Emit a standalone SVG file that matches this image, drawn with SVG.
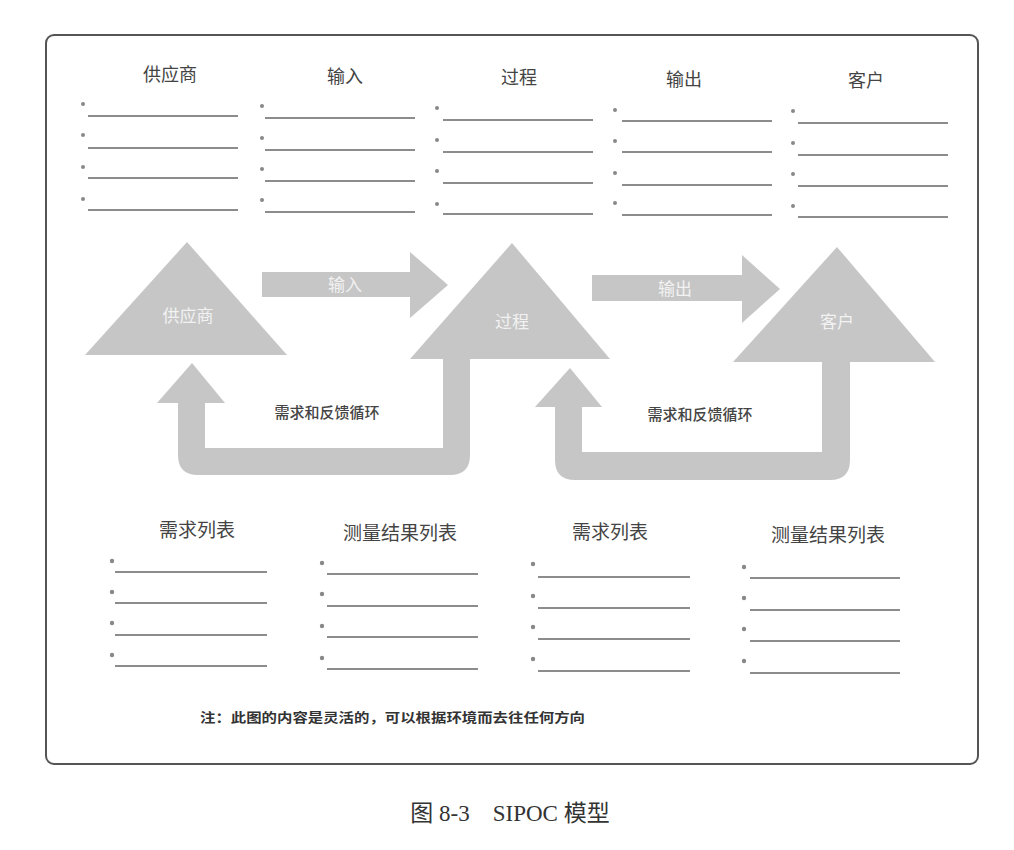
<svg xmlns="http://www.w3.org/2000/svg" width="1014" height="850" viewBox="0 0 1014 850">
<style>
.frame{fill:#fff;stroke:#555;stroke-width:2}
.hdr{font-family:"Liberation Serif","Noto Sans CJK SC",serif;font-size:18px;fill:#444;text-anchor:middle}
.hdr2{font-family:"Liberation Serif","Noto Sans CJK SC",serif;font-size:19px;fill:#444;text-anchor:middle}
.ln{stroke:#666;stroke-width:1.3}
.dot{fill:#888}
.shape{fill:#c6c6c6}
.wl{font-family:"Liberation Sans","Noto Sans CJK SC",sans-serif;font-size:17px;fill:#f2f2f2;text-anchor:middle}
.fb{font-family:"Liberation Sans","Noto Sans CJK SC",sans-serif;font-size:15px;font-weight:500;fill:#444;text-anchor:middle}
.note{font-family:"Liberation Sans","Noto Sans CJK SC",sans-serif;font-size:13px;font-weight:bold;fill:#333}
.cap{font-family:"Liberation Serif","Noto Sans CJK SC",serif;font-size:23px;fill:#333;text-anchor:middle}
</style>
<rect width="1014" height="850" fill="#fff"/>
<rect class="frame" x="46" y="35" width="932" height="729" rx="8"/>

<g id="top-lists">
  <g id="col-supplier">
    <text class="hdr" x="170" y="81">供应商</text>
    <circle class="dot" cx="83" cy="104" r="2"/><line class="ln" x1="88" y1="116" x2="238" y2="116"/>
    <circle class="dot" cx="83" cy="135" r="2"/><line class="ln" x1="88" y1="148" x2="238" y2="148"/>
    <circle class="dot" cx="83" cy="167" r="2"/><line class="ln" x1="88" y1="178" x2="238" y2="178"/>
    <circle class="dot" cx="83" cy="199" r="2"/><line class="ln" x1="88" y1="210" x2="238" y2="210"/>
  </g>
  <g id="col-input">
    <text class="hdr" x="345" y="83">输入</text>
    <circle class="dot" cx="262" cy="106" r="2"/><line class="ln" x1="265" y1="118" x2="415" y2="118"/>
    <circle class="dot" cx="262" cy="138" r="2"/><line class="ln" x1="265" y1="150" x2="415" y2="150"/>
    <circle class="dot" cx="262" cy="169" r="2"/><line class="ln" x1="265" y1="181" x2="415" y2="181"/>
    <circle class="dot" cx="262" cy="200" r="2"/><line class="ln" x1="265" y1="212" x2="415" y2="212"/>
  </g>
  <g id="col-process">
    <text class="hdr" x="519" y="84">过程</text>
    <circle class="dot" cx="437" cy="108" r="2"/><line class="ln" x1="443" y1="120" x2="593" y2="120"/>
    <circle class="dot" cx="437" cy="140" r="2"/><line class="ln" x1="443" y1="152" x2="593" y2="152"/>
    <circle class="dot" cx="437" cy="171" r="2"/><line class="ln" x1="443" y1="183" x2="593" y2="183"/>
    <circle class="dot" cx="437" cy="204" r="2"/><line class="ln" x1="443" y1="214" x2="593" y2="214"/>
  </g>
  <g id="col-output">
    <text class="hdr" x="684" y="86">输出</text>
    <circle class="dot" cx="615" cy="110" r="2"/><line class="ln" x1="622" y1="121" x2="772" y2="121"/>
    <circle class="dot" cx="615" cy="141" r="2"/><line class="ln" x1="622" y1="152" x2="772" y2="152"/>
    <circle class="dot" cx="615" cy="173" r="2"/><line class="ln" x1="622" y1="185" x2="772" y2="185"/>
    <circle class="dot" cx="615" cy="203" r="2"/><line class="ln" x1="622" y1="215" x2="772" y2="215"/>
  </g>
  <g id="col-customer">
    <text class="hdr" x="866" y="87">客户</text>
    <circle class="dot" cx="793" cy="111" r="2"/><line class="ln" x1="798" y1="123" x2="948" y2="123"/>
    <circle class="dot" cx="793" cy="143" r="2"/><line class="ln" x1="798" y1="155" x2="948" y2="155"/>
    <circle class="dot" cx="793" cy="174" r="2"/><line class="ln" x1="798" y1="186" x2="948" y2="186"/>
    <circle class="dot" cx="793" cy="206" r="2"/><line class="ln" x1="798" y1="217" x2="948" y2="217"/>
  </g>
</g>

<g id="connectors">
  <g id="arrow-input">
    <polygon class="shape" points="262,272 410,272 410,252 448,285 410,318 410,297 262,297"/>
    <text class="wl" x="345" y="291">输入</text>
  </g>
  <g id="arrow-output">
    <polygon class="shape" points="592,275 742,275 742,255 780,289 742,323 742,301 592,301"/>
    <text class="wl" x="675" y="295">输出</text>
  </g>
  <g id="feedback-1">
    <path class="shape" d="M192,363 L225,403 L205,403 L205,448 L443,448 L443,352 L470,352 L470,455 Q470,475 450,475 L198,475 Q178,475 178,455 L178,403 L157,403 Z"/>
    <text class="fb" x="327" y="418">需求和反馈循环</text>
  </g>
  <g id="feedback-2">
    <path class="shape" d="M570,368 L602,407 L582,407 L582,452 L822,452 L822,356 L850,356 L850,460 Q850,480 830,480 L575,480 Q555,480 555,460 L555,407 L535,407 Z"/>
    <text class="fb" x="700" y="420">需求和反馈循环</text>
  </g>
</g>

<g id="node-supplier">
  <polygon class="shape" points="187,242 287,355 85,355"/>
  <text class="wl" x="188" y="322">供应商</text>
</g>
<g id="node-process">
  <polygon class="shape" points="512,243 610,359 410,359"/>
  <text class="wl" x="512" y="328">过程</text>
</g>
<g id="node-customer">
  <polygon class="shape" points="837,247 935,362 733,362"/>
  <text class="wl" x="837" y="328">客户</text>
</g>

<g id="bottom-lists">
  <g id="list-req-1">
    <text class="hdr2" x="197" y="537">需求列表</text>
    <circle class="dot" cx="112" cy="561" r="2.2"/><line class="ln" x1="115" y1="572" x2="267" y2="572"/>
    <circle class="dot" cx="112" cy="592" r="2.2"/><line class="ln" x1="115" y1="603" x2="267" y2="603"/>
    <circle class="dot" cx="112" cy="623" r="2.2"/><line class="ln" x1="115" y1="635" x2="267" y2="635"/>
    <circle class="dot" cx="112" cy="655" r="2.2"/><line class="ln" x1="115" y1="666" x2="267" y2="666"/>
  </g>
  <g id="list-meas-1">
    <text class="hdr2" x="400" y="540">测量结果列表</text>
    <circle class="dot" cx="322" cy="563" r="2.2"/><line class="ln" x1="327" y1="574" x2="478" y2="574"/>
    <circle class="dot" cx="322" cy="594" r="2.2"/><line class="ln" x1="327" y1="606" x2="478" y2="606"/>
    <circle class="dot" cx="322" cy="626" r="2.2"/><line class="ln" x1="327" y1="637" x2="478" y2="637"/>
    <circle class="dot" cx="322" cy="658" r="2.2"/><line class="ln" x1="327" y1="669" x2="478" y2="669"/>
  </g>
  <g id="list-req-2">
    <text class="hdr2" x="610" y="539">需求列表</text>
    <circle class="dot" cx="533" cy="564" r="2.2"/><line class="ln" x1="538" y1="577" x2="690" y2="577"/>
    <circle class="dot" cx="533" cy="596" r="2.2"/><line class="ln" x1="538" y1="608" x2="690" y2="608"/>
    <circle class="dot" cx="533" cy="627" r="2.2"/><line class="ln" x1="538" y1="639" x2="690" y2="639"/>
    <circle class="dot" cx="533" cy="659" r="2.2"/><line class="ln" x1="538" y1="671" x2="690" y2="671"/>
  </g>
  <g id="list-meas-2">
    <text class="hdr2" x="828" y="542">测量结果列表</text>
    <circle class="dot" cx="744" cy="567" r="2.2"/><line class="ln" x1="750" y1="578" x2="900" y2="578"/>
    <circle class="dot" cx="744" cy="598" r="2.2"/><line class="ln" x1="750" y1="610" x2="900" y2="610"/>
    <circle class="dot" cx="744" cy="629" r="2.2"/><line class="ln" x1="750" y1="641" x2="900" y2="641"/>
    <circle class="dot" cx="744" cy="661" r="2.2"/><line class="ln" x1="750" y1="673" x2="900" y2="673"/>
  </g>
</g>

<text class="note" x="200" y="722" textLength="385" lengthAdjust="spacingAndGlyphs">注：此图的内容是灵活的，可以根据环境而去往任何方向</text>
<text class="cap" x="510" y="821">图 8-3　SIPOC 模型</text>
</svg>
